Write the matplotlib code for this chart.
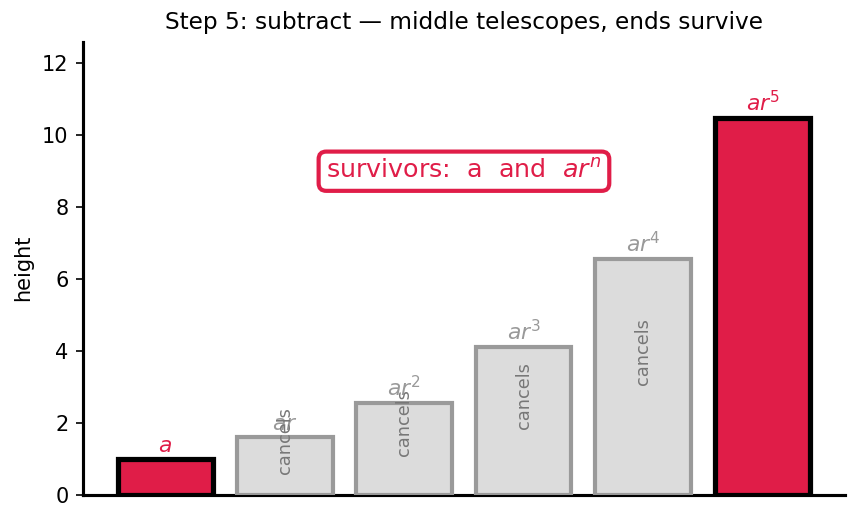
import matplotlib.pyplot as plt

# bar heights (a, ar, ar^2, ... ar^5)
heights = [1.0, 1.6, 2.56, 4.1, 6.55, 10.49]
labels = ['$a$', '$ar$', '$ar^2$', '$ar^3$', '$ar^4$', '$ar^5$']
survives = [True, False, False, False, False, True]

red = '#e01d48'
grey_edge = '#9a9a9a'
grey_fill = '#dcdcdc'

fig = plt.figure(figsize=(856/150, 522/150), dpi=150)
ax = fig.add_axes([0.097, 0.052, 0.89, 0.868])

xs = list(range(len(heights)))
for x, h, lab, s in zip(xs, heights, labels, survives):
    if s:
        ax.bar(x, h, width=0.8, color=red, edgecolor='black', linewidth=2.5, zorder=3)
        ax.text(x, h + 0.08, lab, ha='center', va='bottom', color=red, fontsize=10.5)
    else:
        ax.bar(x, h, width=0.8, color=grey_fill, edgecolor=grey_edge, linewidth=2, zorder=3)
        ax.text(x, h + 0.08, lab, ha='center', va='bottom', color='#999999', fontsize=10.5, zorder=4)
        ax.text(x, h / 2 + 0.72, 'cancels', ha='center', va='center', rotation=90,
                color='#777777', fontsize=8.5, zorder=4)

ax.text(2.5, 9.0, 'survivors:  a  and  $ar^n$', ha='center', va='center', color=red, fontsize=12.2,
        bbox=dict(boxstyle='round,pad=0.3', facecolor='white', edgecolor=red, linewidth=2))

ax.set_ylim(0, 12.6)
ax.set_xticks([])
ax.set_ylabel('height')
ax.set_title('Step 5: subtract \u2014 middle telescopes, ends survive', fontsize=11.2)
for side in ['top', 'right']:
    ax.spines[side].set_visible(False)
for side in ['left', 'bottom']:
    ax.spines[side].set_linewidth(1.5)

fig.savefig('out.png', dpi=150)
